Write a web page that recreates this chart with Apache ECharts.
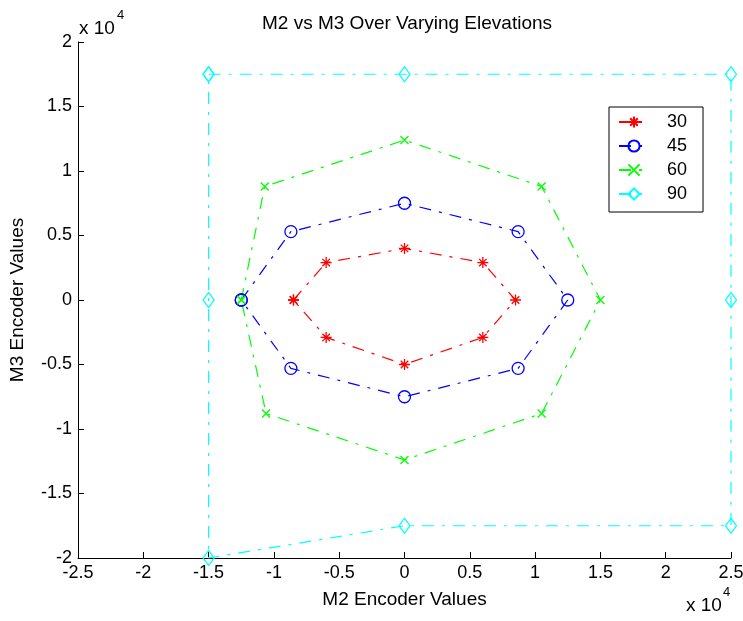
<!DOCTYPE html>
<html>
<head>
<meta charset="utf-8">
<script src="https://cdn.jsdelivr.net/npm/echarts@6/dist/echarts.min.js"></script>
<style>html,body{margin:0;padding:0;background:#fff;overflow:hidden;}#c{width:743px;height:621px;}</style>
</head>
<body>
<div id="c"></div>
<script>
// Data (raw encoder values)
const seriesNames = ['30', '45', '60', '90'];
const x30 = [-8500, -6000, 0, 6000, 8500, 6000, 0, -6000, -8500];
const y30 = [0, 2900, 4000, 2900, 0, -2900, -5000, -2900, 0];
const x45 = [-12500, -8700, 0, 8700, 12500, 8700, 0, -8700, -12500];
const y45 = [0, 5300, 7500, 5300, 0, -5300, -7500, -5300, 0];
const x60 = [-12500, -10700, 0, 10500, 15000, 10500, 0, -10600, -12500];
const y60 = [0, 8800, 12400, 8800, 0, -8800, -12400, -8800, 0];
const x90 = [-15000, 0, 25000, 25000, 25000, 0, -15000, -15000, -15000];
const y90 = [17500, 17500, 17500, 0, -17500, -17500, -20000, 0, 17500];
const xTicks = ['-2.5', '-2', '-1.5', '-1', '-0.5', '0', '0.5', '1', '1.5', '2', '2.5'];
const yTicks = ['-2', '-1.5', '-1', '-0.5', '0', '0.5', '1', '1.5', '2'];

const zip = (xs, ys) => xs.map((v, i) => [v, ys[i]]);
const FONT = 'Liberation Sans, Arial, sans-serif';
const dash = [12, 8, 3, 8];

const styles = [
  { color: '#ff0000', symbol: 'path://M5,0 L5,10 M0,5 L10,5 M1.6,1.6 L8.4,8.4 M1.6,8.4 L8.4,1.6', size: 11 },
  { color: '#0000ff', symbol: 'circle', size: 12 },
  { color: '#00ff00', symbol: 'path://M0,0 L10,10 M0,10 L10,0', size: 8 },
  { color: '#00ffff', symbol: 'diamond', size: [11, 15] }
];
const datasets = [zip(x30, y30), zip(x45, y45), zip(x60, y60), zip(x90, y90)];

const series = datasets.map((d, i) => ({
  name: seriesNames[i],
  type: 'line',
  data: d,
  clip: false,
  symbol: styles[i].symbol,
  symbolSize: styles[i].size,
  showAllSymbol: true,
  lineStyle: { color: styles[i].color, width: 1.2, type: dash },
  itemStyle: { color: 'none', borderColor: styles[i].color, borderWidth: 1.3 },
  emphasis: { disabled: true },
  animation: false
}));

// axis labels are shown in units of 10^4, matching xTicks / yTicks
const fmt = (v) => String(Math.round(v / 1000) / 10);

const chart = echarts.init(document.getElementById('c'));
chart.setOption({
  backgroundColor: '#fff',
  animation: false,
  title: {
    text: 'M2 vs M3 Over Varying Elevations',
    left: 402, top: 9, textAlign: 'center',
    textStyle: { fontFamily: FONT, fontSize: 19, fontWeight: 'normal', color: '#000' }
  },
  grid: { left: 78, right: 12, top: 42, bottom: 63, containLabel: false, outerBoundsMode: 'none' },
  legend: {
    orient: 'vertical',
    left: 609, top: 107,
    data: seriesNames,
    borderColor: '#000', borderWidth: 1,
    padding: [6, 16, 9, 9],
    itemWidth: 30, itemHeight: 14, itemGap: 6,
    textStyle: { fontFamily: FONT, fontSize: 18, color: '#000', padding: [0, 0, 0, 13] },
    backgroundColor: '#fff'
  },
  xAxis: {
    type: 'value', min: -25000, max: 25000, interval: 5000,
    name: 'M2 Encoder Values', nameLocation: 'middle', nameGap: 32,
    nameTextStyle: { fontFamily: FONT, fontSize: 19, color: '#000' },
    axisLine: { onZero: false, lineStyle: { color: '#000', width: 1 } },
    axisTick: { inside: true, length: 6, lineStyle: { color: '#000' } },
    axisLabel: { formatter: fmt, fontFamily: FONT, fontSize: 18, color: '#000', margin: 6 },
    splitLine: { show: false }
  },
  yAxis: {
    type: 'value', min: -20000, max: 20000, interval: 5000,
    name: 'M3 Encoder Values', nameLocation: 'middle', nameGap: 51, nameRotate: 90,
    nameTextStyle: { fontFamily: FONT, fontSize: 19, color: '#000' },
    axisLine: { onZero: false, lineStyle: { color: '#000', width: 1 } },
    axisTick: { inside: true, length: 6, lineStyle: { color: '#000' } },
    axisLabel: { formatter: fmt, fontFamily: FONT, fontSize: 18, color: '#000', margin: 6 },
    splitLine: { show: false }
  },
  graphic: [
    { type: 'text', left: 79, top: 19, style: { text: 'x 10', font: '19px ' + FONT, fill: '#000' } },
    { type: 'text', left: 117, top: 9, style: { text: '4', font: '13px ' + FONT, fill: '#000' } },
    { type: 'text', left: 686, top: 596, style: { text: 'x 10', font: '19px ' + FONT, fill: '#000' } },
    { type: 'text', left: 723, top: 586, style: { text: '4', font: '13px ' + FONT, fill: '#000' } }
  ],
  series: series
});
</script>
</body>
</html>
